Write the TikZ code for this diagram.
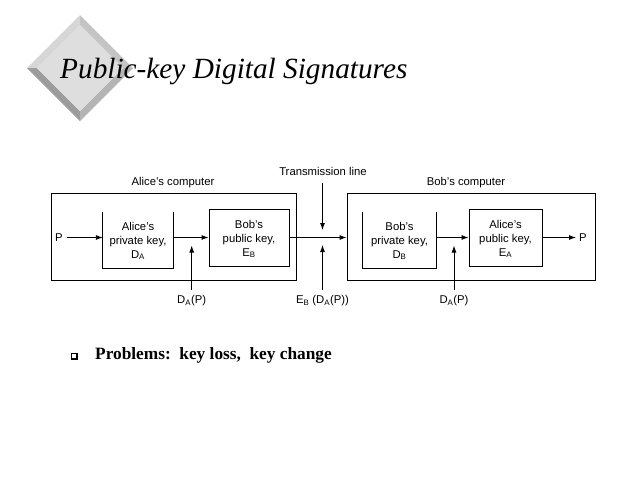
\documentclass[tikz,border=0pt]{standalone}
\usepackage{fontspec}
\setmainfont{Liberation Serif}
\setsansfont{Liberation Sans}
\usetikzlibrary{arrows.meta,calc}
\definecolor{bevA}{HTML}{D6D6D6}
\definecolor{bevB}{HTML}{C4C4C4}
\definecolor{bevC}{HTML}{9C9C9C}
\definecolor{bevD}{HTML}{B4B4B4}
\definecolor{face}{HTML}{DEDEDE}
\begin{document}
\begin{tikzpicture}[x=1pt,y=-1pt,
  lbl/.style={font=\sffamily\fontsize{11.3}{13.8}\selectfont, inner sep=0pt, align=center},
  box/.style={draw, line width=0.9pt, inner sep=0pt},
  openbox/.style={inner sep=0pt},
  ln/.style={line width=0.9pt},
  arr/.style={line width=0.9pt, -{Latex[length=7pt,width=5pt]}}]
\useasboundingbox[fill=white] (0,0) rectangle (640,480);

% bevelled diamond
\coordinate (dT) at (80,15);  \coordinate (dL) at (27,68);
\coordinate (dB) at (80,121); \coordinate (dR) at (133,68);
\coordinate (iT) at (80,25);  \coordinate (iL) at (37,68);
\coordinate (iB) at (80,111); \coordinate (iR) at (123,68);
\fill[bevA] (dT) -- (dL) -- (iL) -- (iT) -- cycle;
\fill[bevB] (dT) -- (dR) -- (iR) -- (iT) -- cycle;
\fill[bevC] (dL) -- (dB) -- (iB) -- (iL) -- cycle;
\fill[bevD] (dB) -- (dR) -- (iR) -- (iB) -- cycle;
\fill[face] (iT) -- (iL) -- (iB) -- (iR) -- cycle;

\node[anchor=base west, inner sep=0pt, font=\itshape\fontsize{29.3}{29.3}\selectfont] (title) at (60,78) {Public-key Digital Signatures};

% computers
\node[box, minimum width=245pt, minimum height=87.7pt] (aliceC) at (174.2,236.9) {};
\node[box, minimum width=248pt, minimum height=87.7pt] (bobC) at (471,236.9) {};
\node[lbl] (aliceCl) at (173,183) {Alice's computer};
\node[lbl] (bobCl) at (466,183) {Bob's computer};

% key boxes
\node[openbox, minimum width=70pt, minimum height=56.3pt] (apriv) at (138,239.9) {};
\draw[ln] (apriv.north west) -- (apriv.south west) -- (apriv.south east) -- (apriv.north east);
\node[lbl] (aprivt) at (138,241) {Alice's\\private key,\\D\textsubscript{A}};

\node[box, minimum width=80pt, minimum height=57pt] (bpub) at (249,237.5) {};
\node[lbl] (bpubt) at (249,239) {Bob's\\public key,\\E\textsubscript{B}};

\node[openbox, minimum width=73pt, minimum height=56.3pt] (bpriv) at (399.5,239.9) {};
\draw[ln] (bpriv.north west) -- (bpriv.south west) -- (bpriv.south east) -- (bpriv.north east);
\node[lbl] (bprivt) at (399.5,241) {Bob's\\private key,\\D\textsubscript{B}};

\node[box, minimum width=73pt, minimum height=57.7pt] (apub) at (505.5,237.9) {};
\node[lbl] (apubt) at (505.5,239) {Alice's\\public key,\\E\textsubscript{A}};

% main signal line
\coordinate (yl) at (0,237.5);
\node[lbl] (Pin) at (59,237.5) {P};
\node[lbl] (Pout) at (583,237.5) {P};
\coordinate (pinS) at (67,237.5);
\coordinate (poutE) at (576,237.5);
\draw[arr] (pinS) -- (apriv.west |- yl);
\draw[arr] (apriv.east |- yl) -- (bpub.west |- yl);
\draw[arr] (bpub.east |- yl) -- (bobC.west |- yl);
\draw[arr] (bpriv.east |- yl) -- (apub.west |- yl);
\draw[arr] (apub.east |- yl) -- (poutE);

% transmission line
\node[lbl] (trl) at (323,171) {Transmission line};
\coordinate (tTop) at (322.5,183);
\coordinate (tTopEnd) at (322.5,230);
\coordinate (tBot) at (322.5,290);
\coordinate (tBotEnd) at (322.5,245);
\draw[arr] (tTop) -- (tTopEnd);
\draw[arr] (tBot) -- (tBotEnd);
\node[lbl] (ebl) at (322.5,301) {E\textsubscript{B} (D\textsubscript{A}(P))};

% D_A(P) inputs
\coordinate (a1) at (191.7,290); \coordinate (a1e) at (191.7,245.5);
\coordinate (b1) at (454,290);   \coordinate (b1e) at (454,245.5);
\draw[arr] (a1) -- (a1e);
\draw[arr] (b1) -- (b1e);
\node[lbl] (dal) at (191.7,301) {D\textsubscript{A}(P)};
\node[lbl] (dbl) at (454,301) {D\textsubscript{A}(P)};

% bullet
\node[draw, line width=0.8pt, minimum size=5pt, inner sep=0pt] (bul) at (73.5,355.5) {};
\draw[line width=0.8pt] ($(bul.south west)+(0.8,0.8)$) -- ($(bul.south east)+(0.8,0.8)$) -- ($(bul.north east)+(0.8,0.8)$);
\node[anchor=base west, inner sep=0pt, font=\bfseries\fontsize{17.3}{17.3}\selectfont] (prob) at (95,359.5) {Problems:\ \ key loss,\ \ key change};
\end{tikzpicture}
\end{document}
